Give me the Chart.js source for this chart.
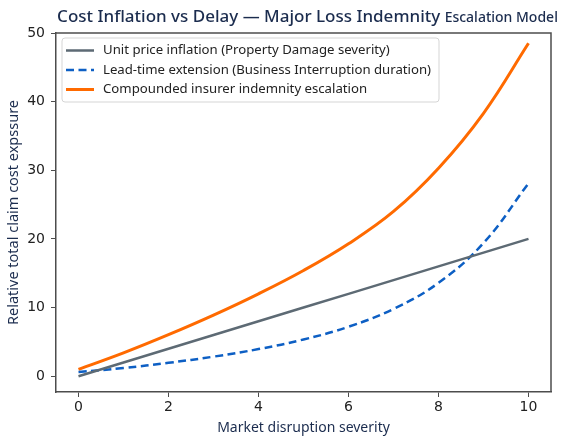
<!DOCTYPE html>
<html>
<head>
<meta charset="utf-8">
<script src="https://cdn.jsdelivr.net/npm/chart.js@4.4.1/dist/chart.umd.min.js"></script>
<style>
  html, body { margin: 0; padding: 0; background: #ffffff; }
  #wrap { width: 567px; height: 443px; }
</style>
</head>
<body>
<div id="wrap"><canvas id="chartCost" width="567" height="443"></canvas></div>
<script>
// values
const xValues = [0, 1, 2, 3, 4, 5, 6, 7, 8, 9, 10];
const priceInflation = [0, 2, 4, 6, 8, 10, 12, 14, 16, 18, 20];
const leadTimeExtension = [0.6, 1.2, 1.95, 2.85, 3.95, 5.35, 7.2, 9.8, 13.6, 19.4, 28.1];
const indemnityEscalation = [1.0, 3.4, 6.05, 8.9, 12.0, 15.4, 19.3, 24.0, 30.3, 38.3, 48.5];
const seriesLabels = [
  'Unit price inflation (Property Damage severity)',
  'Lead-time extension (Business Interruption duration)',
  'Compounded insurer indemnity escalation'
];
const xTicks = [0, 2, 4, 6, 8, 10];
const yTicks = [0, 10, 20, 30, 40, 50];

const navy = '#1b2c4e';
const spine = '#4d4d4d';

function pts(ys) {
  return xValues.map(function(x, i) { return {x: x, y: ys[i]}; });
}

// title (two sizes) + top/right frame + legend box
const extras = {
  id: 'extras',
  afterDraw: function(chart) {
    const ctx = chart.ctx;
    const a = chart.chartArea;
    ctx.save();
    ctx.strokeStyle = spine;
    ctx.lineWidth = 1.5;
    ctx.beginPath();
    ctx.moveTo(a.left, a.top);
    ctx.lineTo(a.right, a.top);
    ctx.lineTo(a.right, a.bottom);
    ctx.stroke();

    // title
    ctx.fillStyle = navy;
    ctx.textBaseline = 'alphabetic';
    ctx.textAlign = 'left';
    const big = 'Cost Inflation vs Delay \u2014 Major Loss Indemnity ';
    const small = 'Escalation Model';
    ctx.font = '500 17px "Noto Sans"';
    const w1 = ctx.measureText(big).width;
    ctx.font = '500 14px "Noto Sans"';
    const w2 = ctx.measureText(small).width;
    let x0 = (a.left + a.right) / 2 + 4 - (w1 + w2) / 2;
    ctx.font = '500 17px "Noto Sans"';
    ctx.fillText(big, x0, 22);
    ctx.font = '500 14px "Noto Sans"';
    ctx.fillText(small, x0 + w1, 22);

    // legend
    const lx = a.left + 6, ly = a.top + 5, lw = 377, lh = 64;
    ctx.fillStyle = 'rgba(255,255,255,0.85)';
    ctx.strokeStyle = '#d5d5d5';
    ctx.lineWidth = 1;
    ctx.beginPath();
    ctx.roundRect(lx, ly, lw, lh, 3);
    ctx.fill();
    ctx.stroke();
    ctx.font = '13.2px "Noto Sans"';
    ctx.textBaseline = 'middle';
    chart.data.datasets.forEach(function(ds, i) {
      const yy = ly + 12.5 + i * 19.5;
      ctx.strokeStyle = ds.borderColor;
      ctx.lineWidth = ds.borderWidth;
      ctx.setLineDash(ds.borderDash || []);
      ctx.beginPath();
      ctx.moveTo(lx + 4, yy);
      ctx.lineTo(lx + 32, yy);
      ctx.stroke();
      ctx.setLineDash([]);
      ctx.fillStyle = '#222222';
      ctx.fillText(ds.label, lx + 41, yy);
    });
    ctx.restore();
  }
};

var ctx = document.getElementById('chartCost').getContext('2d');
var myChart = new Chart(ctx, {
  type: 'line',
  data: {
    datasets: [
      {
        label: seriesLabels[0],
        data: pts(priceInflation),
        borderColor: '#5d6a74',
        borderWidth: 2.5,
        pointRadius: 0
      },
      {
        label: seriesLabels[1],
        data: pts(leadTimeExtension),
        borderColor: '#0d5fc4',
        borderWidth: 2.5,
        borderDash: [8, 4.5],
        pointRadius: 0,
        tension: 0.4
      },
      {
        label: seriesLabels[2],
        data: pts(indemnityEscalation),
        borderColor: '#ff6a00',
        borderWidth: 3,
        pointRadius: 0,
        tension: 0.4
      }
    ]
  },
  options: {
    animation: false,
    responsive: false,
    layout: { padding: { top: 33, right: 16, left: 0, bottom: 0 } },
    plugins: {
      legend: { display: false },
      title: { display: false },
      tooltip: { enabled: false }
    },
    scales: {
      x: {
        type: 'linear',
        min: -0.5,
        max: 10.5,
        afterBuildTicks: function(s) { s.ticks = xTicks.map(function(v) { return {value: v}; }); },
        afterFit: function(s) { s.height = 51; },
        grid: { drawOnChartArea: false, color: spine, tickLength: 5, lineWidth: 1 },
        border: { display: true, color: spine, width: 1.5 },
        ticks: { color: '#222222', font: { family: 'DejaVu Sans', size: 14 }, padding: 2 },
        title: {
          display: true,
          text: 'Market disruption severity',
          color: navy,
          font: { family: 'Noto Sans', size: 14 },
          padding: { top: 0, bottom: 7 }
        }
      },
      y: {
        min: -2.3,
        max: 50,
        afterBuildTicks: function(s) { s.ticks = yTicks.map(function(v) { return {value: v}; }); },
        afterFit: function(s) { s.width = 56; },
        grid: { drawOnChartArea: false, color: spine, tickLength: 5, lineWidth: 1 },
        border: { display: true, color: spine, width: 1.5 },
        ticks: { color: '#222222', font: { family: 'DejaVu Sans', size: 14 }, padding: 6 },
        title: {
          display: true,
          text: 'Relative total claim cost expssure',
          color: navy,
          font: { family: 'Noto Sans', size: 14.5 },
          padding: { top: 5, bottom: 0 }
        }
      }
    }
  },
  plugins: [extras]
});
</script>
</body>
</html>
